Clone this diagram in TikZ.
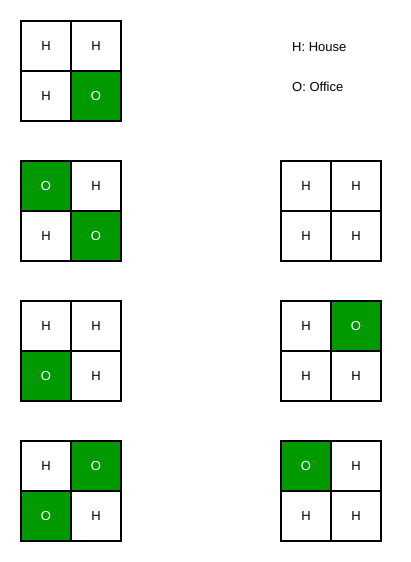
\documentclass[tikz,border=0pt]{standalone}
\usepackage{fontspec}
\setmainfont{Liberation Sans}
\definecolor{officegreen}{HTML}{009900}
\tikzset{
  cell/.style={draw=black, line width=1.4pt, minimum size=50pt, inner sep=0pt, font=\fontsize{13}{15}\selectfont},
  is H/.style={cell, fill=white},
  is O/.style={cell, fill=officegreen, text=white},
  legend/.style={anchor=west, inner sep=0pt, font=\fontsize{13}{15}\selectfont}
}
\begin{document}
\begin{tikzpicture}[x=1pt,y=-1pt]
\useasboundingbox (0,0) rectangle (410,562);

% grids: name / centre of top-left cell / TL TR BL BR
\foreach \g/\x/\y/\a/\b/\c/\d in {g1/46/46/H/H/H/O, g2/46/186/O/H/H/O,
  g3/46/326/H/H/O/H, g4/46/466/H/O/O/H, r2/306/186/H/H/H/H,
  r3/306/326/H/O/H/H, r4/306/466/O/H/H/H}{
  \node[is \a] (\g a) at (\x,\y) {\a};
  \node[is \b] (\g b) at (\x+50,\y) {\b};
  \node[is \c] (\g c) at (\x,\y+50) {\c};
  \node[is \d] (\g d) at (\x+50,\y+50) {\d};
}

\node[legend] (house) at (292,47) {H: House};
\node[legend] (office) at (292,87) {O: Office};
\end{tikzpicture}
\end{document}
